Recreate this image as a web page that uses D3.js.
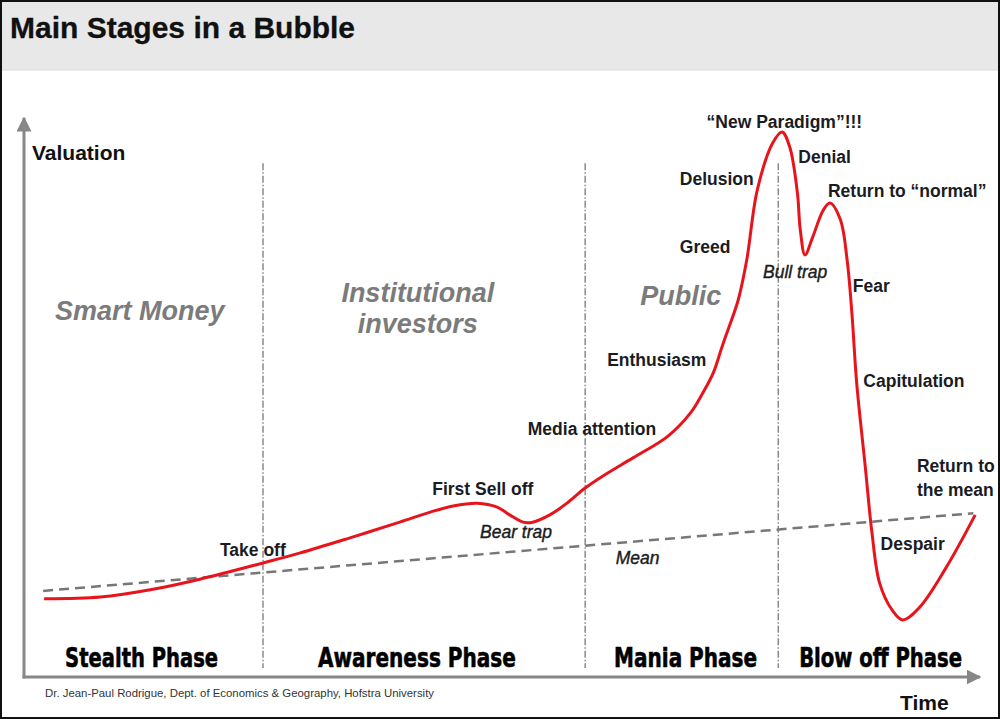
<!DOCTYPE html>
<html>
<head>
<meta charset="utf-8">
<script src="https://cdn.jsdelivr.net/npm/d3@7"></script>
<style>
  html, body { margin: 0; padding: 0; background: #fff; }
  svg { display: block; }
</style>
</head>
<body>
<svg id="chart" width="1000" height="719"></svg>
<script>
// ---------- DATA ----------
const chartTitle = "Main Stages in a Bubble";
const yAxisLabel = "Valuation";
const xAxisLabel = "Time";
const credit = "Dr. Jean-Paul Rodrigue, Dept. of Economics & Geography, Hofstra University";

// valuation curve: time (0-100) and valuation (0-100)
const curveTime = [2.1, 8.0, 13.2, 18.4, 25.0, 28.9, 34.1, 39.3, 42.5, 44.9, 47.4, 49.5, 50.8, 52.2, 53.2, 55.0, 56.8, 58.7, 60.6, 63.7, 67.3, 69.7, 71.0, 72.1, 73.0, 73.7, 74.7, 75.6, 76.7, 78.3, 79.3, 80.1, 80.9, 81.2, 81.7, 82.5, 83.6, 84.3, 85.4, 86.1, 86.6, 87.1, 88.0, 88.7, 89.5, 90.8, 91.9, 93.7, 96.5, 99.5];
const curveValue = [14.0, 14.3, 15.6, 17.5, 20.4, 22.2, 24.9, 27.7, 29.5, 30.6, 31.1, 30.4, 29.0, 27.7, 27.7, 29.0, 31.1, 33.8, 36.0, 39.2, 43.0, 47.2, 50.8, 54.4, 59.0, 62.4, 67.4, 74.6, 87.1, 95.5, 97.5, 94.8, 86.6, 80.0, 75.5, 78.7, 83.5, 84.8, 81.8, 74.6, 65.1, 52.6, 37.6, 25.8, 16.8, 12.0, 10.2, 12.5, 19.7, 29.0];

// long-run mean (straight trend)
const meanTime = [2.0, 99.3];
const meanValue = [15.4, 29.3];

// phases
const phaseNames = ["Stealth Phase", "Awareness Phase", "Mania Phase", "Blow off Phase"];
const phaseBounds = [25.0, 58.7, 78.9];
const phaseLabelTime = [12.3, 41.1, 69.2, 89.6];
const phaseLabelWidth = [153, 198, 143, 163];

// participants
const actorLines = [["Smart Money"], ["Institutional", "investors"], ["Public"]];
const actorTime = [12.1, 41.2, 68.7];
const actorValue = [63.9, 67.1, 66.5];

// stage annotations
const stageText = ["Take off", "First Sell off", "Bear trap", "Mean", "Media attention", "Enthusiasm", "Greed", "Delusion", "\u201CNew Paradigm\u201D!!!", "Denial", "Return to \u201Cnormal\u201D", "Bull trap", "Fear", "Capitulation", "Return to", "the mean", "Despair"];
const stageTime  = [20.5, 42.7, 47.7, 61.9, 52.7, 61.0, 68.6, 68.6, 71.4, 81.0, 84.1, 77.3, 86.7, 87.8, 93.4, 93.4, 89.6];
const stageValue = [21.6, 32.6, 24.9, 20.2, 43.3, 55.6, 75.8, 88.0, 98.2, 91.9, 85.9, 71.4, 68.9, 51.9, 36.7, 32.4, 22.7];
const stageItalic = [false, false, true, true, false, false, false, false, false, false, false, true, false, false, false, false, false];

// ---------- DRAW ----------
const svg = d3.select("#chart");
const W = 1000, H = 719;
const x = d3.scaleLinear().domain([0, 100]).range([24, 980]);
const y = d3.scaleLinear().domain([0, 100]).range([677, 118]);
const sans = "'Liberation Sans', Arial, Helvetica, sans-serif";

// frame + title band
svg.append("rect").attr("x", 0).attr("y", 0).attr("width", W).attr("height", H).attr("fill", "#fff");
svg.append("rect").attr("x", 0).attr("y", 0).attr("width", W).attr("height", 70).attr("fill", "#e8e8e8");
svg.append("line").attr("x1", 0).attr("x2", W).attr("y1", 70).attr("y2", 70).attr("stroke", "#dcdcdc").attr("stroke-width", 1);
svg.append("text").attr("x", 10).attr("y", 38)
  .attr("font-family", sans).attr("font-weight", "bold").attr("font-size", 30)
  .attr("fill", "#111").attr("stroke", "#111").attr("stroke-width", 0.3).text(chartTitle);

// phase dividers
svg.append("g").selectAll("line").data(phaseBounds).join("line")
  .attr("x1", d => x(d)).attr("x2", d => x(d))
  .attr("y1", y(91.9)).attr("y2", y(1.6))
  .attr("stroke", "#8a8a8a").attr("stroke-width", 1.5)
  .attr("stroke-dasharray", "7,2,1.5,2");

// axes
const axisColor = "#878787";
svg.append("defs").append("marker")
  .attr("id", "arrow").attr("viewBox", "0 0 10 10").attr("refX", 9).attr("refY", 5)
  .attr("markerWidth", 5).attr("markerHeight", 5).attr("orient", "auto")
  .append("path").attr("d", "M0,0 L10,5 L0,10 z").attr("fill", axisColor);
svg.append("line").attr("x1", x(0)).attr("x2", x(0)).attr("y1", y(0) + 1.5).attr("y2", y(100))
  .attr("stroke", axisColor).attr("stroke-width", 3).attr("marker-end", "url(#arrow)");
svg.append("line").attr("x1", x(0) - 1.5).attr("x2", x(100)).attr("y1", y(0)).attr("y2", y(0))
  .attr("stroke", axisColor).attr("stroke-width", 3).attr("marker-end", "url(#arrow)");

svg.append("text").attr("x", 32).attr("y", 160)
  .attr("font-family", sans).attr("font-weight", "bold").attr("font-size", 21)
  .attr("fill", "#111").text(yAxisLabel);
svg.append("text").attr("x", 900).attr("y", 710)
  .attr("font-family", sans).attr("font-weight", "bold").attr("font-size", 21)
  .attr("fill", "#111").text(xAxisLabel);

// mean dashed line
const meanPts = meanTime.map((t, i) => [t, meanValue[i]]);
svg.append("path").datum(meanPts)
  .attr("d", d3.line().x(d => x(d[0])).y(d => y(d[1])))
  .attr("fill", "none").attr("stroke", "#777").attr("stroke-width", 2.5)
  .attr("stroke-dasharray", "10,6");

// valuation curve
const curvePts = curveTime.map((t, i) => [t, curveValue[i]]);
svg.append("path").datum(curvePts)
  .attr("d", d3.line().x(d => x(d[0])).y(d => y(d[1])).curve(d3.curveCatmullRom.alpha(0.5)))
  .attr("fill", "none").attr("stroke", "#e8141c").attr("stroke-width", 3)
  .attr("stroke-linejoin", "round");

// actor labels
actorLines.forEach((lines, i) => {
  const t = svg.append("text")
    .attr("x", x(actorTime[i])).attr("y", y(actorValue[i]))
    .attr("text-anchor", "middle")
    .attr("font-family", sans).attr("font-weight", "bold").attr("font-style", "italic")
    .attr("font-size", 27).attr("fill", "#7b7b7b");
  lines.forEach((ln, j) => {
    t.append("tspan").attr("x", x(actorTime[i])).attr("dy", j === 0 ? 0 : 31).text(ln);
  });
});

// stage annotations
svg.append("g").selectAll("text").data(stageText).join("text")
  .attr("x", (d, i) => x(stageTime[i])).attr("y", (d, i) => y(stageValue[i]))
  .attr("font-family", sans)
  .attr("font-weight", (d, i) => stageItalic[i] ? "normal" : "bold")
  .attr("font-style", (d, i) => stageItalic[i] ? "italic" : "normal")
  .attr("font-size", 17.5)
  .attr("fill", "#1b1b22")
  .attr("stroke", (d, i) => stageItalic[i] ? "#1b1b22" : "none")
  .attr("stroke-width", 0.4)
  .text(d => d);

// phase labels (heavy condensed look: measure, then squeeze horizontally)
const phaseG = svg.append("g");
phaseNames.forEach((name, i) => {
  const g = phaseG.append("g");
  const t = g.append("text")
    .attr("x", 0).attr("y", 0)
    .attr("text-anchor", "middle")
    .attr("font-family", "'DejaVu Sans', sans-serif")
    .attr("font-weight", "bold").attr("font-size", 26)
    .attr("fill", "#000").attr("stroke", "#000").attr("stroke-width", 0.6)
    .text(name);
  const natural = t.node().getComputedTextLength();
  const sx = phaseLabelWidth[i] / natural;
  g.attr("transform", `translate(${x(phaseLabelTime[i])},667) scale(${sx},1)`);
});

// credit
svg.append("text").attr("x", 45).attr("y", 697)
  .attr("font-family", sans).attr("font-size", 10.5).attr("fill", "#333")
  .attr("textLength", 389).attr("lengthAdjust", "spacingAndGlyphs")
  .text(credit);

// outer frame
svg.append("rect").attr("x", 1).attr("y", 1).attr("width", W - 2).attr("height", H - 2)
  .attr("fill", "none").attr("stroke", "#111").attr("stroke-width", 2);
</script>
</body>
</html>
